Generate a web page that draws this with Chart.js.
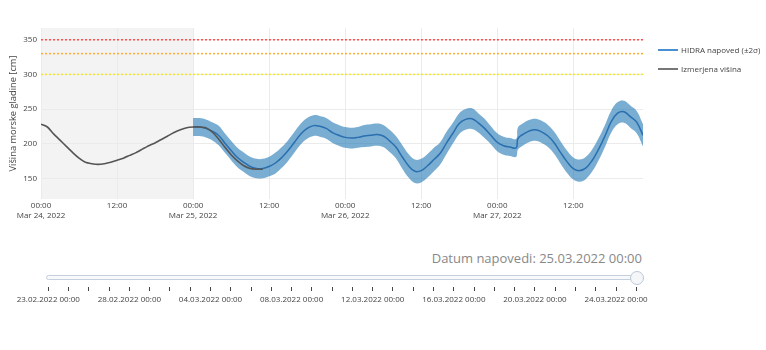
<!DOCTYPE html>
<html lang="sl">
<head>
<meta charset="utf-8">
<title>Višina morske gladine – HIDRA</title>
<script src="https://cdn.jsdelivr.net/npm/chart.js@4.4.1/dist/chart.umd.min.js"></script>
<style>
  html, body { margin: 0; padding: 0; background: #fff; }
  body { width: 766px; height: 350px; position: relative; overflow: hidden; font-family: "Open Sans", sans-serif; color: #444; }
  canvas { position: absolute; left: 0; }
  #graf { top: 0; }
  #drsnik { top: 230px; }
  .legenda { position: absolute; left: 658px; font-size: 8px; line-height: 10px; white-space: nowrap; }
  .legenda i { position: absolute; left: 0; top: 4px; width: 20px; height: 2px; }
  .legenda span { position: absolute; left: 23px; top: 0; }
  #datum { position: absolute; right: 124px; top: 249px; font-size: 13px; line-height: 18px; color: #888; white-space: nowrap; }
  #tir { position: absolute; left: 46px; top: 275px; width: 588px; height: 3px; border: 1px solid #c6cfdc; border-radius: 3px; background: #f8f9fb; }
  #rocaj { position: absolute; left: 630px; top: 271px; width: 12px; height: 12px; border: 1px solid #bec8d9; border-radius: 50%; background: #f5f6f8; }
</style>
</head>
<body>
<canvas id="graf" width="766" height="230"></canvas>
<div class="legenda" style="top:45px"><i style="background:#4a8fd0"></i><span>HIDRA napoved (±2σ)</span></div>
<div class="legenda" style="top:64px"><i style="background:#777"></i><span>Izmerjena višina</span></div>
<div id="datum"></div>
<div id="tir"></div>
<div id="rocaj"></div>
<canvas id="drsnik" width="766" height="120"></canvas>
<script>
// Časovna os: ure od 24.03.2022 00:00
const xMin = 0;
const xMax = 95;
const xTicks = [0, 12, 24, 36, 48, 60, 72, 84];
const dnevi = ['Mar 24, 2022', 'Mar 25, 2022', 'Mar 26, 2022', 'Mar 27, 2022'];
const yMin = 120;
const yMax = 367;
const yTicks = [150, 200, 250, 300, 350];

// Opozorilni pragovi [cm]
const pragovi = [350, 330, 300];
const pragoviBarve = ['#ff4d4d', '#ffab2e', '#f2e52a'];

// Izmerjena višina (urne vrednosti od 24.03. 00:00 do 25.03. 11:00)
const izmerjenaUre = [0, 1, 2, 3, 4, 5, 6, 7, 8, 9, 10, 11, 12, 13, 14, 15, 16, 17, 18, 19, 20, 21, 22, 23,
                      24, 25, 26, 27, 28, 29, 30, 31, 32, 33, 34, 35];
const izmerjenaVisina = [228, 224, 214, 205, 196, 187, 179, 173, 171, 170, 171, 173,
                         176, 179, 183, 187, 192, 197, 201, 206, 211, 216, 220, 223,
                         224, 224, 223, 217, 207, 195, 184, 175, 168, 164, 163, 163];

// Napoved HIDRA od 25.03. 00:00 (ure od 24.03. 00:00)
const napovedUre = [24, 25, 26, 27, 28, 29, 30, 31, 32, 33, 34, 35, 36, 37, 38, 39, 40, 41, 42, 43,
                    44, 45, 46, 47, 48, 49, 50, 51, 52, 53, 54, 55, 56, 57, 58, 59, 60, 61, 62, 63,
                    64, 65, 66, 67, 68, 69, 70, 71, 72, 73, 74, 75, 75.25, 76, 77, 78, 79, 80, 81, 82,
                    83, 84, 85, 86, 87, 88, 89, 90, 91, 92, 93, 94, 95];
const napoved = [224, 224, 222, 218, 212, 201, 190, 180, 173, 167, 164, 164, 167, 172, 180, 190, 202, 214, 222, 226,
                 225, 222, 216, 212, 209, 208, 209, 211, 212, 213, 211, 204, 195, 181, 168, 160, 161, 168, 177, 186,
                 201, 215, 229, 235, 236, 230, 222, 212, 202, 197, 195, 194, 207, 213, 218, 220, 217, 211, 201, 187,
                 174, 164, 161, 165, 176, 192, 211, 232, 244, 246, 239, 231, 212];
const dvaSigma = [13, 13, 13, 13, 14, 14, 14, 14, 14, 14, 14, 14, 14, 15, 15, 15, 15, 15, 15, 15,
                  15, 15, 15, 15, 15, 15, 15, 16, 16, 16, 16, 16, 16, 17, 17, 17, 17, 17, 17, 16,
                  16, 15, 15, 15, 15, 14, 14, 13, 13, 13, 13, 13, 16, 16, 16, 16, 16, 16, 16, 16,
                  16, 16, 16, 16, 16, 16, 16, 16, 16, 16, 16, 16, 16];

// Datumi napovedi na drsniku
const drsnikDatumi = ['23.02.2022 00:00', '24.02.2022 00:00', '25.02.2022 00:00', '26.02.2022 00:00',
  '28.02.2022 00:00', '01.03.2022 00:00', '02.03.2022 00:00', '03.03.2022 00:00', '04.03.2022 00:00',
  '05.03.2022 00:00', '06.03.2022 00:00', '07.03.2022 00:00', '08.03.2022 00:00', '09.03.2022 00:00',
  '10.03.2022 00:00', '11.03.2022 00:00', '12.03.2022 00:00', '13.03.2022 00:00', '14.03.2022 00:00',
  '15.03.2022 00:00', '16.03.2022 00:00', '17.03.2022 00:00', '18.03.2022 00:00', '19.03.2022 00:00',
  '20.03.2022 00:00', '21.03.2022 00:00', '22.03.2022 00:00', '23.03.2022 00:00', '24.03.2022 00:00',
  '25.03.2022 00:00'];
const izbraniDatum = drsnikDatumi.length - 1;

const pisava = 'Open Sans';
const mreza = '#ebebeb';
const gladkost = 0.4;

// Sivo ozadje za obdobje meritev pred začetkom napovedi
const obdobjeMeritev = {
  id: 'obdobjeMeritev',
  beforeDraw(chart) {
    const { ctx, chartArea, scales } = chart;
    const x0 = scales.x.getPixelForValue(izmerjenaUre[0]);
    const x1 = scales.x.getPixelForValue(napovedUre[0]);
    ctx.save();
    ctx.fillStyle = '#f3f3f3';
    ctx.fillRect(x0, chartArea.top, x1 - x0, chartArea.bottom - chartArea.top);
    ctx.restore();
  }
};

const tocke = (ure, vrednosti) => ure.map((h, i) => ({ x: h, y: vrednosti[i] }));

const pragDatasets = pragovi.map((p, i) => ({
  data: [{ x: xMin, y: p }, { x: xMax, y: p }],
  borderColor: pragoviBarve[i],
  borderWidth: 1.5,
  borderDash: [2, 2],
  pointRadius: 0,
  fill: false,
  order: 5
}));

new Chart(document.getElementById('graf'), {
  type: 'line',
  data: {
    datasets: [
      ...pragDatasets,
      {
        label: 'zgornja meja',
        data: tocke(napovedUre, napoved.map((v, i) => v + dvaSigma[i])),
        borderWidth: 0,
        pointRadius: 0,
        backgroundColor: 'rgba(31,119,180,0.6)',
        fill: '+1',
        tension: gladkost,
        order: 3
      },
      {
        label: 'spodnja meja',
        data: tocke(napovedUre, napoved.map((v, i) => v - dvaSigma[i])),
        borderWidth: 0,
        pointRadius: 0,
        fill: false,
        tension: gladkost,
        order: 3
      },
      {
        label: 'HIDRA napoved (±2σ)',
        data: tocke(napovedUre, napoved),
        borderColor: '#2a6faf',
        borderWidth: 1.5,
        pointRadius: 0,
        fill: false,
        tension: gladkost,
        order: 1
      },
      {
        label: 'Izmerjena višina',
        data: tocke(izmerjenaUre, izmerjenaVisina),
        borderColor: '#555',
        borderWidth: 1.6,
        pointRadius: 0,
        fill: false,
        tension: 0.2,
        order: 0
      }
    ]
  },
  options: {
    responsive: false,
    animation: false,
    events: [],
    layout: { padding: { top: 28, right: 123, bottom: 0, left: 0 } },
    plugins: { legend: { display: false }, tooltip: { enabled: false } },
    scales: {
      x: {
        type: 'linear',
        min: xMin,
        max: xMax,
        afterFit(s) { s.height = 31; },
        afterBuildTicks(s) { s.ticks = xTicks.map(v => ({ value: v })); },
        grid: { color: mreza, drawTicks: false },
        border: { display: false },
        ticks: {
          color: '#444',
          font: { family: pisava, size: 8, lineHeight: 1.25 },
          padding: 2,
          maxRotation: 0,
          autoSkip: false,
          callback(v) {
            return v % 24 === 0 ? ['00:00', dnevi[v / 24]] : '12:00';
          }
        }
      },
      y: {
        type: 'linear',
        min: yMin,
        max: yMax,
        afterFit(s) { s.width = 41; },
        afterBuildTicks(s) { s.ticks = yTicks.map(v => ({ value: v })); },
        grid: { color: mreza, drawTicks: false },
        border: { display: false },
        ticks: { color: '#444', font: { family: pisava, size: 8 }, padding: 4 },
        title: {
          display: true,
          text: 'Višina morske gladine [cm]',
          color: '#444',
          font: { family: pisava, size: 9.3 },
          padding: { top: 7.7, bottom: 0 }
        }
      }
    }
  },
  plugins: [obdobjeMeritev]
});

// Drsnik z datumi napovedi
document.getElementById('datum').textContent = 'Datum napovedi: ' + drsnikDatumi[izbraniDatum];

new Chart(document.getElementById('drsnik'), {
  type: 'line',
  data: { labels: drsnikDatumi, datasets: [{ data: [], pointRadius: 0 }] },
  options: {
    responsive: false,
    animation: false,
    events: [],
    layout: { padding: { top: 40, right: 129.7, bottom: 0, left: 48.3 } },
    plugins: { legend: { display: false }, tooltip: { enabled: false } },
    scales: {
      x: {
        type: 'category',
        offset: false,
        afterFit(s) { s.height = 63; },
        grid: { drawOnChartArea: false, drawTicks: true, tickLength: 4, tickColor: '#444', tickWidth: 1 },
        border: { display: false },
        ticks: {
          color: '#444',
          font: { family: pisava, size: 8 },
          padding: 4,
          maxRotation: 0,
          autoSkip: false,
          callback(v, i) { return i % 4 === 0 ? drsnikDatumi[i] : ''; }
        }
      },
      y: { display: false }
    }
  }
});
</script>
</body>
</html>
